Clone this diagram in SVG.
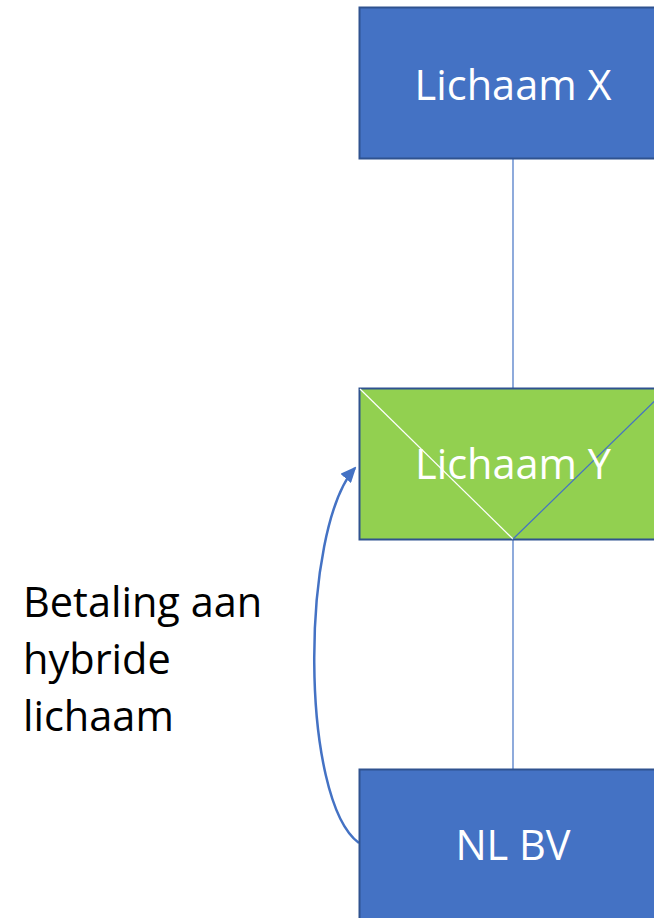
<svg xmlns="http://www.w3.org/2000/svg" width="654" height="918" viewBox="0 0 654 918">
<style>
.box{stroke:#2F528F;stroke-width:2}
.blue{fill:#4472C4}
.green{fill:#92D050}
.lbl{font-family:"Open Sans","Liberation Sans",sans-serif;font-size:41.5px;fill:#FFFFFF;text-anchor:middle}
.note{font-family:"Open Sans","Liberation Sans",sans-serif;font-size:41.5px;fill:#000000}
.conn{stroke:#4472C4;stroke-width:1.2;fill:none}
</style>
<defs>
<marker id="ah" markerWidth="16" markerHeight="14" refX="14" refY="7" orient="auto" markerUnits="userSpaceOnUse" viewBox="0 0 16 14">
<path d="M0,0 L16,7 L0,14 z" fill="#4472C4"/>
</marker>
</defs>
<g id="connectors">
<line class="conn" x1="513" y1="159" x2="513" y2="389"/>
<line class="conn" x1="513" y1="539" x2="513" y2="769"/>
<path d="M359,843 C300,800 300,530 355,468" fill="none" stroke="#4472C4" stroke-width="2.5" marker-end="url(#ah)"/>
</g>
<g id="node-x">
<rect class="box blue" x="359.5" y="7.5" width="308" height="151"/>
<text class="lbl" x="513" y="100">Lichaam X</text>
</g>
<g id="node-y">
<rect class="box green" x="359.5" y="388.5" width="308" height="151"/>
<line x1="360" y1="389" x2="513" y2="539" stroke="#FFFFFF" stroke-width="1.2"/>
<line x1="513" y1="539" x2="667" y2="389" stroke="#4472C4" stroke-width="1.2"/>
<text class="lbl" x="513" y="479">Lichaam Y</text>
</g>
<g id="node-nl">
<rect class="box blue" x="359.5" y="769.5" width="308" height="151"/>
<text class="lbl" x="513" y="860">NL BV</text>
</g>
<g id="label">
<text class="note" x="23" y="617">Betaling aan</text>
<text class="note" x="23" y="674">hybride</text>
<text class="note" x="23" y="731">lichaam</text>
</g>
</svg>
